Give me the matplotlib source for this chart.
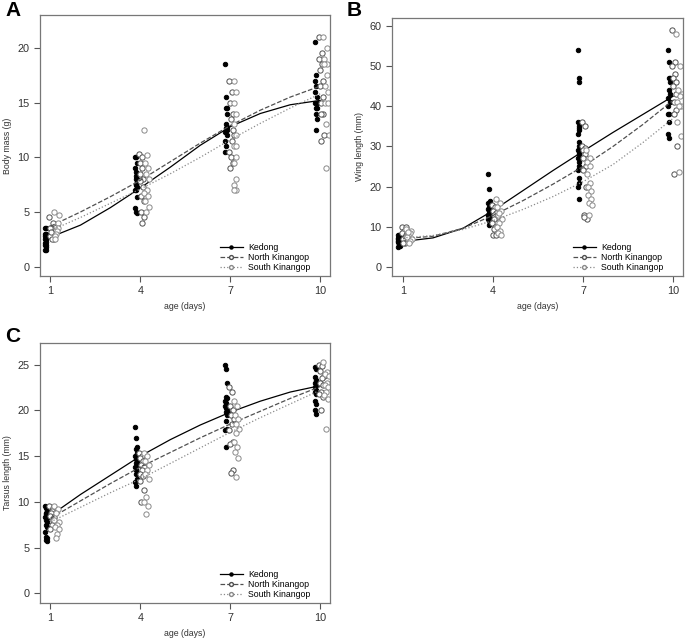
import numpy as np
import matplotlib.pyplot as plt
from matplotlib.lines import Line2D

plt.rcParams["font.family"] = ["Liberation Sans", "DejaVu Sans"]

ages = [1, 4, 7, 10]
days = list(range(1, 11))
groups = ["Kedong", "North Kinangop", "South Kinangop"]

# ---- panel A: body mass (g) ----
mass_kedong = [
    [3.5, 3.5, 3.0, 3.0, 2.8, 2.5, 2.5, 2.3, 2.2, 2.0, 2.0, 1.8, 1.5, 1.5],
    [10.0, 10.0, 9.5, 9.0, 8.7, 8.5, 8.3, 8.0, 7.8, 7.5, 7.3, 7.0, 7.0, 6.4, 5.4, 5.0, 4.9, 7.6, 8.0],
    [18.5, 15.5, 14.5, 14.5, 14.0, 13.0, 12.8, 12.5, 12.5, 12.3, 12.0, 11.5, 11.0, 10.5, 12.7],
    [20.5, 17.5, 17.0, 16.5, 16.0, 15.5, 15.0, 15.0, 14.5, 14.5, 14.0, 13.5, 12.5],
]
mass_north = [
    [4.5, 4.0, 3.5, 3.5, 3.0, 3.0, 2.8, 2.5, 2.5, 3.2],
    [10.3, 10.0, 9.5, 9.0, 8.5, 8.0, 7.8, 7.3, 6.5, 6.0, 5.0, 4.5, 4.0],
    [17.0, 16.0, 15.0, 14.0, 13.5, 12.0, 11.5, 10.5, 9.5, 9.0, 12.5, 10.0],
    [21.0, 19.5, 19.0, 18.5, 18.0, 17.0, 16.5, 15.5, 15.0, 14.0, 14.0, 12.0, 11.5],
]
mass_south = [
    [5.0, 4.7, 4.0, 3.5, 3.3, 3.0, 2.8, 2.5],
    [12.5, 10.2, 9.5, 9.0, 8.5, 8.0, 7.0, 6.7, 6.5, 6.0, 5.5, 5.0],
    [17.0, 16.0, 15.0, 14.0, 13.0, 12.0, 11.0, 10.0, 9.5, 8.0, 7.5, 7.0, 7.0, 11.0],
    [21.0, 20.0, 19.0, 18.5, 18.5, 17.5, 16.5, 16.0, 15.0, 15.0, 13.0, 12.0, 9.0],
]
mass_fit_kedong = [2.7, 3.8, 5.4, 7.2, 9.1, 11.1, 12.8, 14.0, 14.8, 15.2]
mass_fit_north = [3.7, 5.0, 6.4, 7.9, 9.6, 11.3, 12.9, 14.3, 15.5, 16.5]
mass_fit_south = [3.3, 4.5, 5.8, 7.1, 8.5, 10.0, 11.6, 13.1, 14.5, 15.8]

# ---- panel B: wing length (mm) ----
wing_kedong = [
    [8.0, 7.8, 7.5, 7.2, 7.0, 6.8, 6.5, 6.2, 6.0, 5.8, 5.5, 5.2, 5.0, 7.3, 6.3, 5.7],
    [23.0, 19.5, 16.5, 16.0, 15.0, 14.5, 14.0, 13.5, 13.0, 12.5, 12.0, 11.5, 11.0, 10.5, 13.8, 12.8, 11.8],
    [54.0, 47.0, 46.0, 36.0, 35.0, 34.0, 33.0, 31.0, 30.0, 29.0, 28.5, 28.0, 27.0, 26.0, 25.0,
     24.0, 22.0, 21.0, 20.0, 17.0, 34.5],
    [54.0, 51.0, 47.0, 47.0, 46.0, 44.0, 43.0, 42.0, 41.0, 40.0, 38.0, 38.0, 36.0, 33.0, 32.0],
]
wing_north = [
    [10.0, 9.8, 9.0, 8.5, 8.0, 7.5, 7.0, 6.5, 6.0, 5.8],
    [15.5, 15.0, 14.0, 13.5, 13.0, 12.5, 12.0, 11.0, 10.0, 8.0, 8.0, 9.5],
    [36.0, 35.0, 30.0, 29.5, 29.0, 28.0, 27.0, 25.0, 24.0, 20.0, 13.0, 12.0, 12.5],
    [59.0, 51.0, 50.0, 48.0, 47.0, 46.0, 45.0, 43.0, 41.0, 39.0, 38.0, 30.0, 23.0],
]
wing_south = [
    [9.5, 9.0, 8.5, 8.0, 7.5, 7.0, 6.5, 6.0, 8.7],
    [17.0, 16.0, 15.0, 14.0, 13.0, 12.0, 11.0, 10.0, 9.0, 8.5, 8.0, 13.5],
    [29.0, 27.0, 26.0, 25.0, 23.0, 21.0, 20.0, 19.0, 18.0, 17.0, 16.0, 15.5, 13.0],
    [58.0, 50.0, 44.0, 43.0, 42.5, 41.0, 40.0, 40.0, 36.0, 32.5, 23.5],
]
wing_fit_kedong = [6.3, 7.2, 9.6, 14.0, 19.0, 24.0, 28.8, 33.5, 38.0, 42.5]
wing_fit_north = [7.0, 7.6, 9.6, 12.8, 16.5, 20.6, 25.0, 30.0, 35.5, 41.5]
wing_fit_south = [7.2, 7.8, 9.3, 11.5, 14.3, 17.5, 21.2, 25.5, 31.0, 37.0]

# ---- panel C: tarsus length (mm) ----
tarsus_kedong = [
    [9.5, 9.3, 9.0, 8.8, 8.5, 8.3, 8.0, 7.8, 7.5, 7.3, 6.7, 6.2, 6.0, 5.8, 5.7, 8.7, 8.2],
    [18.2, 17.0, 16.0, 15.8, 15.3, 15.0, 14.7, 14.5, 14.2, 14.0, 13.8, 13.5, 13.2, 13.0, 12.5, 12.2, 11.7],
    [25.0, 24.5, 23.0, 21.5, 21.3, 21.0, 20.8, 20.5, 20.3, 20.0, 19.8, 19.5, 18.8, 18.0, 17.8, 16.0],
    [24.7, 24.5, 23.7, 23.3, 23.0, 22.8, 22.5, 22.2, 22.0, 21.8, 21.0, 20.7, 20.0, 19.6],
]
tarsus_north = [
    [9.5, 9.3, 9.0, 8.8, 8.5, 8.3, 8.0, 7.5, 7.0],
    [15.3, 15.0, 14.8, 14.5, 14.0, 13.8, 13.5, 13.0, 12.8, 12.3, 11.3, 10.0],
    [22.5, 22.0, 20.5, 20.0, 19.5, 19.0, 18.5, 17.8, 16.5, 16.3, 13.5, 13.2],
    [25.0, 24.8, 24.3, 23.8, 23.5, 23.0, 22.8, 22.0, 21.8, 21.5, 20.0],
]
tarsus_south = [
    [9.5, 9.2, 8.8, 8.0, 7.8, 7.5, 7.2, 7.0, 6.5, 6.0],
    [15.3, 15.0, 14.5, 14.0, 13.5, 13.0, 12.5, 10.5, 10.0, 9.5, 8.7],
    [21.0, 20.5, 19.5, 19.0, 18.5, 18.0, 17.5, 16.5, 16.0, 15.5, 14.8, 12.7],
    [25.3, 24.2, 24.0, 23.8, 23.0, 22.8, 22.5, 22.0, 21.7, 21.2, 18.0],
]
tarsus_fit_kedong = [8.5, 10.8, 12.9, 15.0, 16.8, 18.4, 19.8, 21.0, 22.0, 22.7]
tarsus_fit_north = [8.2, 10.1, 12.0, 13.8, 15.4, 17.0, 18.5, 19.9, 21.3, 22.6]
tarsus_fit_south = [7.8, 9.4, 11.0, 12.5, 14.2, 15.9, 17.6, 19.2, 20.7, 22.2]

# marker / line styles per group
styles = {
    "Kedong": dict(mfc="black", mec="black", ls="-", lc="black", off=-0.14, w=0.04, ms=3.2),
    "North Kinangop": dict(mfc="white", mec="#505050", ls="--", lc="#505050", off=0.04, w=0.08, ms=3.8),
    "South Kinangop": dict(mfc="white", mec="#8a8a8a", ls=":", lc="#8a8a8a", off=0.2, w=0.09, ms=3.8),
}


def spread(n, half):
    # deterministic side-to-side spread so points don't sit on top of each other
    if n == 1:
        return np.zeros(1)
    idx = np.array([(i * 7) % n for i in range(n)])
    return (idx / (n - 1) - 0.5) * 2 * half


def draw_panel(ax, pts, fits, ylim, yticks, ylabel):
    for g, p, f in zip(groups, pts, fits):
        st = styles[g]
        for a, vals in zip(ages, p):
            x = a + st["off"] + spread(len(vals), st["w"])
            ax.plot(x, vals, "o", ms=st["ms"], mfc=st["mfc"], mec=st["mec"], mew=0.7, ls="none")
        ax.plot(days, f, color=st["lc"], ls=st["ls"], lw=0.9)
    ax.set_xlim(0.65, 10.33)
    ax.set_ylim(*ylim)
    ax.set_xticks(ages)
    ax.set_yticks(yticks)
    ax.tick_params(labelsize=7.8, colors="#555555", labelcolor="#333333", length=4, width=0.8)
    for s in ax.spines.values():
        s.set_color("#777777")
        s.set_linewidth(0.9)
    ax.set_ylabel(ylabel, fontsize=6.3, color="#333333", labelpad=4)
    ax.set_xlabel("age (days)", fontsize=6.3, color="#333333", labelpad=4)
    handles = [Line2D([0], [0], color=styles[g]["lc"], ls=styles[g]["ls"], lw=0.9, marker="o",
                      ms=styles[g]["ms"] - 1.0, mfc=styles[g]["mfc"], mec=styles[g]["mec"])
               for g in groups]
    ax.legend(handles, groups, loc="lower right", bbox_to_anchor=(0.95, -0.005), frameon=False,
              fontsize=6.3, handlelength=2.6, labelspacing=0.1, borderaxespad=0.2, handletextpad=0.6)


fig = plt.figure(figsize=(6.85, 6.38), dpi=100)
axA = fig.add_axes([0.0584, 0.5674, 0.4234, 0.409])
axB = fig.add_axes([0.5723, 0.5674, 0.4248, 0.4044])
axC = fig.add_axes([0.0584, 0.0549, 0.4234, 0.408])

draw_panel(axA, [mass_kedong, mass_north, mass_south],
           [mass_fit_kedong, mass_fit_north, mass_fit_south],
           (-0.85, 23.0), [0, 5, 10, 15, 20], "Body mass (g)")
draw_panel(axB, [wing_kedong, wing_north, wing_south],
           [wing_fit_kedong, wing_fit_north, wing_fit_south],
           (-2.3, 62), [0, 10, 20, 30, 40, 50, 60], "Wing length (mm)")
draw_panel(axC, [tarsus_kedong, tarsus_north, tarsus_south],
           [tarsus_fit_kedong, tarsus_fit_north, tarsus_fit_south],
           (-1.06, 27.4), [0, 5, 10, 15, 20, 25], "Tarsus length (mm)")
axB.set_xlim(0.633, 10.33)

# panel letters
fig.text(5 / 685, 1 - 1 / 638, "A", fontsize=15, fontweight="bold", va="top", ha="left")
fig.text(347 / 685, 1 - 1 / 638, "B", fontsize=15, fontweight="bold", va="top", ha="left")
fig.text(5 / 685, 1 - 327 / 638, "C", fontsize=15, fontweight="bold", va="top", ha="left")

fig.savefig("out.png", dpi=100)
